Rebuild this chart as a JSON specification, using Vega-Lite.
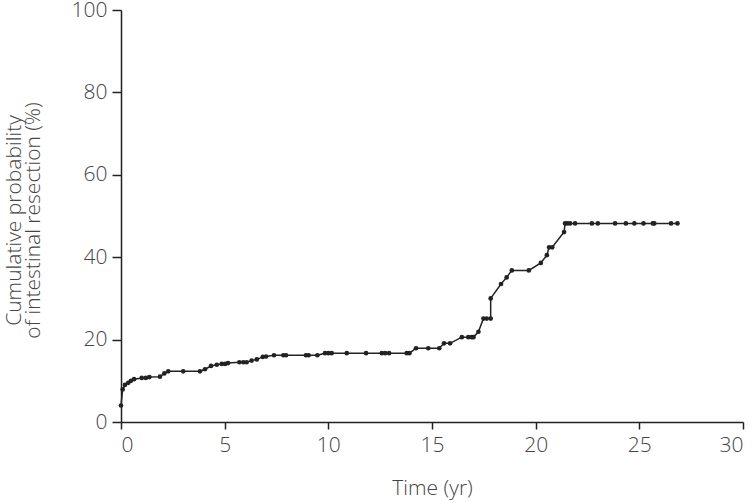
{
  "$schema": "https://vega.github.io/schema/vega-lite/v6.json",
  "autosize": "none",
  "width": 622,
  "height": 412,
  "padding": {"left": 121, "top": 10, "right": 13, "bottom": 81},
  "background": "white",
  "config": {
    "view": {"stroke": null},
    "axis": {
      "grid": false,
      "domainColor": "#222",
      "domainWidth": 1.5,
      "tickColor": "#222",
      "tickWidth": 1.5,
      "labelFont": "Open Sans",
      "labelFontWeight": 300,
      "labelFontSize": 21,
      "labelColor": "#444",
      "titleFont": "Open Sans",
      "titleFontWeight": 300,
      "titleFontSize": 21,
      "titleColor": "#444"
    }
  },
  "data": {
    "values": [
      {"i": 1, "t": 0, "p": 4.0},
      {"i": 2, "t": 0.08, "p": 7.9},
      {"i": 3, "t": 0.19, "p": 9.0},
      {"i": 4, "t": 0.35, "p": 9.5},
      {"i": 5, "t": 0.48, "p": 10.0},
      {"i": 6, "t": 0.63, "p": 10.4},
      {"i": 7, "t": 1.0, "p": 10.7},
      {"i": 8, "t": 1.2, "p": 10.7},
      {"i": 9, "t": 1.37, "p": 10.9},
      {"i": 10, "t": 1.88, "p": 11.0},
      {"i": 11, "t": 2.09, "p": 11.8},
      {"i": 12, "t": 2.28, "p": 12.3},
      {"i": 13, "t": 3.0, "p": 12.3},
      {"i": 14, "t": 3.81, "p": 12.3},
      {"i": 15, "t": 4.05, "p": 12.8},
      {"i": 16, "t": 4.34, "p": 13.6},
      {"i": 17, "t": 4.62, "p": 13.9},
      {"i": 18, "t": 4.86, "p": 14.1},
      {"i": 19, "t": 5.02, "p": 14.1},
      {"i": 20, "t": 5.16, "p": 14.3},
      {"i": 21, "t": 5.71, "p": 14.5},
      {"i": 22, "t": 5.9, "p": 14.5},
      {"i": 23, "t": 6.06, "p": 14.5},
      {"i": 24, "t": 6.3, "p": 14.9},
      {"i": 25, "t": 6.55, "p": 15.2},
      {"i": 26, "t": 6.84, "p": 15.8},
      {"i": 27, "t": 7.0, "p": 15.9},
      {"i": 28, "t": 7.38, "p": 16.2},
      {"i": 29, "t": 7.83, "p": 16.2},
      {"i": 30, "t": 7.96, "p": 16.2},
      {"i": 31, "t": 8.92, "p": 16.2},
      {"i": 32, "t": 9.05, "p": 16.2},
      {"i": 33, "t": 9.47, "p": 16.2},
      {"i": 34, "t": 9.84, "p": 16.7},
      {"i": 35, "t": 10.0, "p": 16.7},
      {"i": 36, "t": 10.16, "p": 16.7},
      {"i": 37, "t": 10.89, "p": 16.7},
      {"i": 38, "t": 11.82, "p": 16.7},
      {"i": 39, "t": 12.58, "p": 16.7},
      {"i": 40, "t": 12.74, "p": 16.7},
      {"i": 41, "t": 12.93, "p": 16.7},
      {"i": 42, "t": 13.78, "p": 16.7},
      {"i": 43, "t": 13.91, "p": 16.7},
      {"i": 44, "t": 14.23, "p": 17.9},
      {"i": 45, "t": 14.82, "p": 17.9},
      {"i": 46, "t": 15.35, "p": 17.9},
      {"i": 47, "t": 15.58, "p": 19.1},
      {"i": 48, "t": 15.87, "p": 19.1},
      {"i": 49, "t": 16.44, "p": 20.6},
      {"i": 50, "t": 16.75, "p": 20.6},
      {"i": 51, "t": 16.92, "p": 20.6},
      {"i": 52, "t": 17.0, "p": 20.6},
      {"i": 53, "t": 17.24, "p": 21.9},
      {"i": 54, "t": 17.48, "p": 25.1},
      {"i": 55, "t": 17.64, "p": 25.1},
      {"i": 56, "t": 17.83, "p": 25.1},
      {"i": 57, "t": 17.83, "p": 30.0},
      {"i": 58, "t": 18.33, "p": 33.5},
      {"i": 59, "t": 18.6, "p": 35.1},
      {"i": 60, "t": 18.85, "p": 36.8},
      {"i": 61, "t": 19.67, "p": 36.8},
      {"i": 62, "t": 20.25, "p": 38.6},
      {"i": 63, "t": 20.54, "p": 40.5},
      {"i": 64, "t": 20.65, "p": 42.4},
      {"i": 65, "t": 20.8, "p": 42.4},
      {"i": 66, "t": 21.37, "p": 46.1},
      {"i": 67, "t": 21.42, "p": 48.2},
      {"i": 68, "t": 21.53, "p": 48.2},
      {"i": 69, "t": 21.66, "p": 48.2},
      {"i": 70, "t": 21.9, "p": 48.2},
      {"i": 71, "t": 22.71, "p": 48.2},
      {"i": 72, "t": 23.0, "p": 48.2},
      {"i": 73, "t": 23.83, "p": 48.2},
      {"i": 74, "t": 24.35, "p": 48.2},
      {"i": 75, "t": 24.76, "p": 48.2},
      {"i": 76, "t": 25.2, "p": 48.2},
      {"i": 77, "t": 25.65, "p": 48.2},
      {"i": 78, "t": 25.72, "p": 48.2},
      {"i": 79, "t": 26.53, "p": 48.2},
      {"i": 80, "t": 26.84, "p": 48.2}
    ]
  },
  "encoding": {
    "x": {
      "field": "t",
      "type": "quantitative",
      "scale": {"domain": [0, 30], "nice": false, "zero": false},
      "axis": {
        "title": "Time (yr)",
        "values": [0, 5, 10, 15, 20, 25, 30],
        "tickSize": 7,
        "labelPadding": 5,
        "titlePadding": 22
      }
    },
    "y": {
      "field": "p",
      "type": "quantitative",
      "scale": {"domain": [0, 100], "nice": false},
      "axis": {
        "title": ["Cumulative probability", "of intestinal resection (%)"],
        "values": [0, 20, 40, 60, 80, 100],
        "tickSize": 9,
        "labelPadding": 5,
        "titleX": -97,
        "titleY": 210,
        "titleLineHeight": 19.5
      }
    }
  },
  "layer": [
    {
      "mark": {"type": "line", "color": "#222", "strokeWidth": 1.5, "interpolate": "linear"},
      "encoding": {"order": {"field": "i", "type": "quantitative"}}
    },
    {
      "mark": {"type": "point", "filled": true, "color": "#222", "size": 22, "opacity": 1}
    }
  ]
}
